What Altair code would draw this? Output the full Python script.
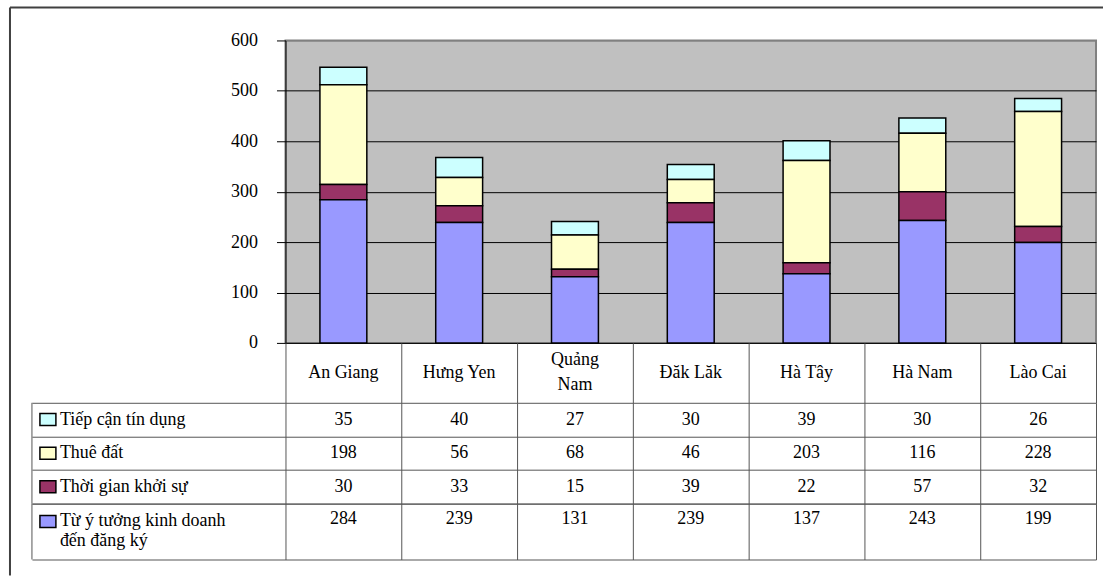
import altair as alt
import pandas as pd

# Provinces (columns) and the header text shown in the data table
categories = ["An Giang", "Hưng Yen", "Quảng Nam", "Đăk Lăk", "Hà Tây", "Hà Nam", "Lào Cai"]
header_labels = ["An Giang", "Hưng Yen", "Quảng\nNam", "Đăk Lăk", "Hà Tây", "Hà Nam", "Lào Cai"]

# Series, in data-table order (top row first)
series_names = ["Tiếp cận tín dụng", "Thuê đất", "Thời gian khởi sự",
                "Từ ý tưởng kinh doanh đến đăng ký"]
series_labels = ["Tiếp cận tín dụng", "Thuê đất", "Thời gian khởi sự",
                 "Từ ý tưởng kinh doanh\nđến đăng ký"]
series_colors = ["#CCFFFF", "#FFFFCC", "#993366", "#9999FF"]

tiep_can_tin_dung = [35, 40, 27, 30, 39, 30, 26]
thue_dat = [198, 56, 68, 46, 203, 116, 228]
thoi_gian_khoi_su = [30, 33, 15, 39, 22, 57, 32]
tu_y_tuong_den_dang_ky = [284, 239, 131, 239, 137, 243, 199]

y_ticks = [0, 100, 200, 300, 400, 500, 600]

series_values = [tiep_can_tin_dung, thue_dat, thoi_gian_khoi_su, tu_y_tuong_den_dang_ky]

rows = []
for s_idx, (name, vals) in enumerate(zip(series_names, series_values)):
    for cat, v in zip(categories, vals):
        # stack index: last table row sits at the bottom of each bar
        rows.append({"category": cat, "series": name, "value": v,
                     "stack": len(series_names) - 1 - s_idx})
df = pd.DataFrame(rows)
keys_df = pd.DataFrame({"series": series_names, "label": series_labels})
hdr_df = pd.DataFrame({"category": categories, "header": header_labels})
one = pd.DataFrame({"k": [0]})

PLOT_W, PLOT_H = 812, 303
HEADER_H = 60
LABEL_COL = 254
FONT = "Liberation Serif, Times New Roman, DejaVu Serif, serif"
FS = 18
LINE = "#555555"

color = alt.Color("series:N", scale=alt.Scale(domain=series_names, range=series_colors), legend=None)

# ---- stacked bars ----
bars = alt.Chart(df).mark_bar(stroke="black", strokeWidth=1.5).encode(
    x=alt.X("category:N", sort=categories,
            scale=alt.Scale(domain=categories, paddingInner=0.595, paddingOuter=0.2975),
            axis=None),
    y=alt.Y("value:Q", stack="zero",
            scale=alt.Scale(domain=[0, 600], nice=False),
            axis=alt.Axis(values=y_ticks, title=None, grid=True,
                          gridColor=alt.condition("datum.value == 600", alt.value("#808080"), alt.value("black")),
                          tickSize=9, tickColor="black", domainColor="black",
                          labelPadding=19)),
    color=color,
    order=alt.Order("stack:Q"),
)

# outer frame (left and top edges)
frame_left = alt.Chart(one).mark_rule(color="#404040", strokeWidth=2).encode(
    x=alt.value(-276), y=alt.value(-33), y2=alt.value(536))
frame_top = alt.Chart(one).mark_rule(color="#404040", strokeWidth=2).encode(
    x=alt.value(-276), x2=alt.value(819), y=alt.value(-33))

top = alt.layer(
    bars, frame_left, frame_top,
    view=alt.ViewBackground(fill="#C0C0C0", stroke="#808080", strokeWidth=2),
).properties(width=PLOT_W, height=PLOT_H)

# ---- data table ----
x_table = alt.X("category:N", sort=categories,
                scale=alt.Scale(domain=categories, paddingInner=0, paddingOuter=0),
                axis=alt.Axis(labels=False, ticks=False, domain=False, grid=True,
                              gridColor=LINE, tickBand="extent", title=None))

hdr_base = alt.Chart(hdr_df).encode(x=x_table, y=alt.value(HEADER_H / 2), text="header:N")
hdr_single = hdr_base.mark_text(
    font=FONT, fontSize=FS, baseline="middle", color="black"
).transform_filter("indexof(datum.header, '\\n') < 0")
hdr_double = hdr_base.mark_text(
    font=FONT, fontSize=FS, baseline="middle", lineBreak="\n", lineHeight=25, dy=-12.5, color="black"
).transform_filter("indexof(datum.header, '\\n') >= 0")
header = alt.layer(hdr_single, hdr_double).properties(width=PLOT_W, height=HEADER_H)


def table_rows(names, height, value_dy, label_dy, key_dy):
    part = df[df["series"].isin(names)]
    kpart = keys_df[keys_df["series"].isin(names)]
    row_h = height / len(names)
    y_rows = alt.Y("series:N", sort=names,
                   scale=alt.Scale(domain=names, paddingInner=0, paddingOuter=0),
                   axis=alt.Axis(labels=False, ticks=True, tickSize=LABEL_COL, tickColor=LINE,
                                 domain=False, grid=True, gridColor=LINE,
                                 tickBand="extent", title=None))
    values = alt.Chart(part).mark_text(
        font=FONT, fontSize=FS, baseline="middle", dy=value_dy, color="black"
    ).encode(x=x_table, y=y_rows, text="value:Q")
    keys = alt.Chart(kpart).mark_point(
        shape="M-1,-0.75L1,-0.75L1,0.75L-1,0.75Z", filled=True, size=256,
        stroke="black", strokeWidth=1.5, opacity=1
    ).encode(x=alt.value(-238), y=y_rows, yOffset=alt.value(row_h / 2 + key_dy), color=color)
    labels = alt.Chart(kpart).mark_text(
        font=FONT, fontSize=FS, align="left", baseline="middle", lineBreak="\n",
        lineHeight=20, dy=label_dy, color="black"
    ).encode(x=alt.value(-226), y=y_rows, text="label:N")
    left = alt.Chart(one).mark_rule(color=LINE).encode(
        x=alt.value(-LABEL_COL), y=alt.value(0), y2=alt.value(height))
    return alt.layer(values, keys, labels, left).properties(width=PLOT_W, height=height)


rows_a = table_rows(series_names[:3], 101, 0, 0, 0)
rows_b = table_rows(series_names[3:], 56, -13, -11, -10)

chart = alt.vconcat(
    top, header, rows_a, rows_b, spacing=0, bounds="flush"
).properties(
    padding={"left": 8, "top": 5, "right": 0, "bottom": 0},
    background="white",
).configure_view(stroke=None).configure_axis(
    labelFont=FONT, labelFontSize=FS, labelColor="black"
)

chart.save("out.html", embed_options={"renderer": "svg", "actions": False})
